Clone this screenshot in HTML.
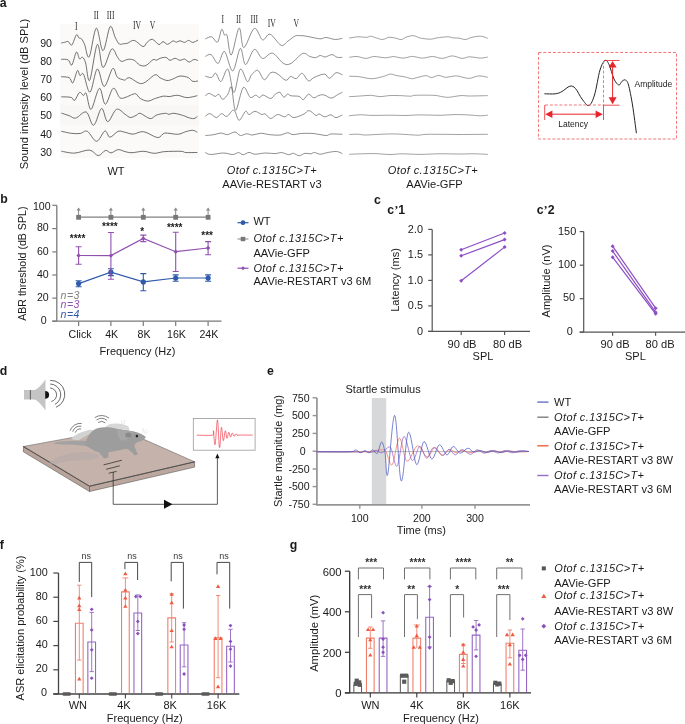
<!DOCTYPE html>
<html><head><meta charset="utf-8"><title>Figure</title>
<style>
html,body{margin:0;padding:0;background:#fff;width:685px;height:724px;overflow:hidden}
svg{display:block;will-change:transform}
</style></head><body>
<svg width="685" height="724" viewBox="0 0 685 724">
<g fill="#1a1a1a" font-family="'Liberation Sans', sans-serif">
<text x="-0.3" y="6.6" font-size="12.3" font-weight="bold">a</text>
<rect x="60" y="24" width="139" height="134" fill="#fbfaf9"/>
<rect x="60" y="105" width="139" height="20" fill="#f8f7f6"/>
<path d="M61.1,43.0C61.7,42.9 63.4,42.5 64.6,42.3C65.8,42.0 67.0,41.0 68.2,41.5C69.4,42.0 70.4,46.1 71.8,45.0C73.2,43.9 75.2,36.0 76.4,34.8C77.6,33.6 78.1,37.2 78.9,37.9C79.8,38.6 80.5,37.8 81.5,38.9C82.5,40.0 83.3,41.5 84.6,44.5C85.9,47.5 87.2,59.5 89.2,56.8C91.2,54.1 94.0,29.2 96.3,28.2C98.6,27.2 100.7,51.0 103.0,50.7C105.3,50.4 108.1,28.8 110.1,26.6C112.1,24.4 113.7,34.5 115.2,37.4C116.7,40.3 117.9,43.0 119.3,44.0C120.7,45.0 122.1,43.8 123.4,43.7C124.7,43.6 125.5,43.8 127.3,43.3C129.1,42.8 131.7,39.8 134.3,40.4C136.9,41.0 140.9,46.3 143.1,46.6C145.2,46.9 145.6,43.4 147.2,42.2C148.8,41.0 150.4,38.9 152.4,39.3C154.4,39.7 157.1,44.1 158.9,44.5C160.7,44.9 161.6,41.6 163.0,41.6C164.4,41.6 165.9,44.4 167.6,44.3C169.2,44.2 171.4,41.4 172.9,41.0C174.4,40.6 175.2,42.2 176.4,42.2C177.6,42.2 178.5,40.8 179.9,40.8C181.3,40.8 183.2,42.5 184.6,42.4C186.0,42.3 187.2,40.4 188.6,40.4C189.9,40.4 191.1,42.4 192.7,42.4C194.3,42.4 197.1,40.5 198.0,40.1" fill="none" stroke="#4d4d4d" stroke-width="0.8" stroke-linejoin="round"/>
<path d="M61.1,59.3C62.3,59.4 66.4,58.9 68.2,59.9C70.0,60.9 70.4,66.3 71.8,65.0C73.2,63.7 75.1,53.2 76.4,52.2C77.7,51.2 78.5,57.9 79.5,58.8C80.5,59.6 81.5,56.6 82.5,57.3C83.5,58.0 84.4,59.1 85.6,62.9C86.8,66.7 87.8,83.4 89.7,80.3C91.7,77.2 95.1,46.6 97.3,44.5C99.5,42.4 100.6,66.7 103.0,67.5C105.4,68.3 109.2,50.9 111.6,49.1C114.0,47.3 115.7,54.8 117.3,56.8C118.9,58.8 119.6,61.0 121.4,61.4C123.2,61.8 125.8,59.5 128.0,59.3C130.2,59.1 132.4,59.3 134.3,60.3C136.2,61.2 137.7,64.1 139.6,65.0C141.5,65.9 143.8,66.4 146.0,65.5C148.2,64.6 151.2,60.6 153.0,59.7C154.8,58.8 155.3,60.4 156.5,60.2C157.7,60.0 158.4,58.8 160.0,58.3C161.6,57.8 164.2,57.1 165.9,57.4C167.6,57.7 168.4,60.1 170.0,60.3C171.6,60.4 173.5,58.3 175.2,58.3C176.8,58.3 178.3,60.2 179.9,60.3C181.5,60.4 183.1,58.8 184.6,59.1C186.1,59.4 187.6,61.9 189.2,62.0C190.8,62.1 192.4,59.7 193.9,59.5C195.4,59.3 197.3,60.4 198.0,60.6" fill="none" stroke="#4d4d4d" stroke-width="0.8" stroke-linejoin="round"/>
<path d="M61.1,76.7C62.5,76.9 67.2,76.7 69.2,77.7C71.2,78.7 71.5,84.0 72.9,82.8C74.3,81.6 76.2,71.8 77.4,70.6C78.6,69.4 79.0,75.1 80.0,75.7C81.0,76.3 81.8,71.5 83.5,74.2C85.2,76.9 87.7,93.0 90.0,92.1C92.3,91.2 94.9,69.9 97.3,69.0C99.7,68.1 101.6,86.6 104.2,86.5C106.8,86.4 110.5,70.0 112.7,68.5C114.9,67.0 115.5,75.3 117.3,77.2C119.1,79.1 122.1,79.3 123.4,79.8C124.7,80.3 124.0,80.4 125.0,80.1C126.0,79.8 126.9,77.2 129.7,77.8C132.5,78.4 137.7,84.1 141.9,83.6C146.1,83.1 151.8,75.9 154.8,74.9C157.8,73.9 158.0,76.9 160.0,77.8C162.0,78.7 164.8,80.3 167.0,80.5C169.2,80.7 170.8,79.7 172.9,79.0C175.1,78.3 177.4,76.3 179.9,76.1C182.4,75.8 186.0,76.6 188.1,77.5C190.2,78.4 191.0,80.7 192.7,81.3C194.3,81.9 197.1,81.0 198.0,81.0" fill="none" stroke="#4d4d4d" stroke-width="0.8" stroke-linejoin="round"/>
<path d="M61.3,96.8C62.9,96.9 69.0,96.8 71.2,97.4C73.4,98.0 73.2,101.2 74.6,100.4C76.0,99.6 78.0,93.2 79.5,92.4C81.0,91.6 82.3,95.3 83.4,95.5C84.5,95.7 84.9,91.2 86.2,93.5C87.5,95.8 88.9,110.2 91.1,109.3C93.3,108.4 97.0,89.1 99.4,88.3C101.8,87.5 103.0,104.3 105.3,104.3C107.6,104.3 110.8,89.4 113.2,88.3C115.6,87.2 117.8,96.2 119.8,97.7C121.8,99.2 123.2,98.0 125.0,97.6C126.8,97.2 128.5,95.9 130.3,95.3C132.1,94.7 134.0,93.3 135.7,93.8C137.3,94.3 138.2,97.2 140.2,98.4C142.2,99.6 145.3,101.1 147.8,101.1C150.3,101.1 152.8,99.2 155.4,98.4C158.0,97.6 161.2,96.4 163.5,96.1C165.8,95.8 166.7,96.7 169.0,96.6C171.3,96.5 174.6,95.1 177.6,95.3C180.6,95.5 183.6,97.5 186.9,97.6C190.2,97.7 195.7,96.0 197.4,95.7" fill="none" stroke="#4d4d4d" stroke-width="0.8" stroke-linejoin="round"/>
<path d="M61.3,113.1C62.6,113.5 66.6,114.8 69.0,115.6C71.4,116.4 72.8,118.7 75.7,118.1C78.6,117.5 83.2,110.8 86.2,112.0C89.2,113.2 91.0,125.9 93.6,125.3C96.2,124.7 99.2,109.1 101.6,108.5C103.9,107.9 105.2,121.6 107.7,121.7C110.2,121.8 113.6,110.5 116.5,109.3C119.4,108.0 122.7,112.8 125.0,114.2C127.3,115.6 128.5,117.3 130.3,117.5C132.2,117.7 134.4,116.1 136.1,115.4C137.8,114.7 137.9,112.8 140.2,113.3C142.5,113.8 147.4,118.3 150.1,118.6C152.8,118.9 154.0,116.0 156.5,115.1C159.0,114.2 163.2,113.4 165.3,113.3C167.4,113.2 167.6,114.3 169.0,114.3C170.4,114.3 171.6,113.1 174.0,113.3C176.4,113.5 181.1,114.9 183.4,115.6C185.8,116.3 186.3,117.0 188.1,117.5C189.8,118.0 192.3,118.8 193.9,118.6C195.5,118.4 196.8,116.8 197.4,116.5" fill="none" stroke="#4d4d4d" stroke-width="0.8" stroke-linejoin="round"/>
<path d="M61.3,131.3C62.9,131.6 68.1,132.9 71.2,133.3C74.3,133.7 77.4,133.8 80.1,133.5C82.8,133.2 84.5,130.0 87.3,131.3C90.0,132.6 93.7,141.4 96.6,141.3C99.5,141.2 102.7,131.7 104.9,131.0C107.1,130.3 107.7,137.1 109.9,137.2C112.1,137.2 115.7,132.1 118.2,131.3C120.7,130.5 122.5,131.8 125.0,132.3C127.5,132.8 130.1,134.2 133.2,134.1C136.3,134.0 139.6,131.1 143.7,131.7C147.8,132.3 154.2,137.4 157.7,137.6C161.2,137.8 161.4,133.6 164.7,133.1C168.0,132.6 174.1,134.5 177.6,134.3C181.1,134.1 183.2,132.4 185.7,131.7C188.2,131.0 190.8,130.2 192.7,130.3C194.6,130.4 196.6,132.0 197.4,132.3" fill="none" stroke="#4d4d4d" stroke-width="0.8" stroke-linejoin="round"/>
<path d="M61.3,151.2C63.5,151.5 69.9,153.3 74.6,153.1C79.3,152.9 85.5,149.7 89.5,150.1C93.5,150.5 95.6,155.5 98.3,155.6C101.0,155.7 103.4,150.8 105.5,150.4C107.6,150.0 108.9,153.0 111.0,152.9C113.1,152.8 115.9,149.8 118.2,149.6C120.5,149.4 122.7,151.1 125.0,151.6C127.3,152.1 128.9,152.8 132.0,152.7C135.1,152.6 140.0,151.2 143.7,151.3C147.4,151.4 150.7,153.2 154.2,153.3C157.7,153.4 160.2,151.9 164.7,151.6C169.2,151.3 177.6,151.2 181.1,151.3C184.6,151.5 183.0,152.3 185.7,152.5C188.4,152.7 195.4,152.5 197.4,152.5" fill="none" stroke="#4d4d4d" stroke-width="0.8" stroke-linejoin="round"/>
<path d="M205.3,38.9C206.4,38.5 209.7,36.3 211.7,36.8C213.7,37.3 215.8,43.3 217.5,42.1C219.2,40.9 220.4,30.7 221.6,29.5C222.8,28.3 223.6,34.1 224.5,35.1C225.4,36.1 226.0,32.3 227.1,35.6C228.2,38.9 229.3,56.2 231.3,55.0C233.3,53.8 237.0,29.3 239.1,28.1C241.2,26.9 241.3,47.6 243.8,47.6C246.3,47.6 251.2,29.7 254.3,28.4C257.4,27.1 259.9,38.8 262.5,39.8C265.1,40.8 267.0,33.3 270.1,34.2C273.2,35.1 278.1,44.2 281.1,45.3C284.1,46.4 285.7,42.5 288.0,41.0C290.3,39.5 293.4,36.9 295.1,36.0C296.8,35.1 296.4,35.6 298.0,35.6C299.6,35.6 301.9,35.5 305.0,36.0C308.1,36.5 314.0,37.8 316.7,38.3C319.4,38.8 319.4,38.9 321.0,38.8C322.6,38.7 323.7,37.4 326.1,37.5C328.5,37.6 332.7,39.4 335.4,39.5C338.1,39.6 341.2,38.5 342.4,38.3" fill="none" stroke="#5e5e5e" stroke-width="0.7" stroke-linejoin="round"/>
<path d="M205.3,56.4C206.3,56.1 209.0,53.4 211.1,54.6C213.2,55.8 215.9,63.9 218.1,63.4C220.3,62.9 222.1,50.2 224.5,51.5C226.9,52.8 230.1,71.5 232.7,71.0C235.3,70.5 238.2,49.5 240.3,48.4C242.4,47.3 243.2,64.4 245.5,64.6C247.8,64.8 251.5,50.4 254.3,49.4C257.1,48.4 259.5,57.9 262.5,58.5C265.5,59.1 268.9,52.3 272.4,53.1C275.9,53.9 280.3,61.7 283.4,63.4C286.5,65.1 287.8,65.0 291.0,63.4C294.2,61.8 299.6,54.7 302.7,53.5C305.8,52.3 307.6,55.7 309.7,56.4C311.8,57.1 313.8,57.8 315.5,57.6C317.2,57.5 318.6,55.6 320.2,55.5C321.8,55.4 323.1,57.1 325.0,57.0C326.9,56.9 329.9,54.6 331.9,54.6C333.9,54.6 335.4,56.8 337.2,57.3C338.9,57.8 341.5,57.3 342.4,57.3" fill="none" stroke="#5e5e5e" stroke-width="0.7" stroke-linejoin="round"/>
<path d="M205.3,76.2C206.4,76.4 209.9,77.9 211.7,77.4C213.4,76.9 214.2,72.6 215.8,73.3C217.4,74.0 219.0,82.2 221.0,81.5C223.0,80.8 225.8,67.4 228.0,69.2C230.2,71.0 231.8,92.5 233.9,92.5C236.0,92.5 238.1,71.0 240.3,69.2C242.5,67.4 245.5,80.5 247.3,81.5C249.2,82.5 249.7,76.9 251.4,75.1C253.2,73.2 255.7,69.6 257.8,70.4C259.9,71.2 262.1,79.3 264.2,79.7C266.3,80.1 268.6,73.7 270.7,72.7C272.8,71.7 274.5,72.2 277.0,73.5C279.5,74.8 283.6,79.8 285.8,80.3C288.1,80.8 288.8,76.8 290.5,76.5C292.2,76.2 294.4,79.1 296.3,78.6C298.2,78.1 300.1,72.9 302.1,73.3C304.1,73.7 306.5,80.2 308.5,80.9C310.5,81.6 311.4,78.6 314.0,77.5C316.6,76.4 321.7,74.0 324.3,74.1C326.9,74.2 327.7,78.5 329.6,78.3C331.6,78.1 333.9,73.3 336.0,72.7C338.1,72.1 341.3,74.5 342.4,74.8" fill="none" stroke="#5e5e5e" stroke-width="0.7" stroke-linejoin="round"/>
<path d="M205.3,95.8C206.0,95.4 207.7,93.3 209.3,93.4C211.0,93.5 213.6,96.3 215.2,96.4C216.8,96.5 217.4,93.7 218.7,94.2C220.0,94.7 221.2,99.3 222.8,99.3C224.4,99.3 226.6,96.0 228.0,94.0C229.4,92.0 230.2,84.5 231.5,87.2C232.8,89.9 233.7,110.3 235.6,110.4C237.5,110.5 240.8,89.8 243.2,87.6C245.6,85.4 248.1,96.0 250.2,97.3C252.2,98.6 253.9,95.2 255.5,95.2C257.1,95.2 258.3,97.5 259.6,97.5C260.9,97.5 261.2,94.8 263.1,95.0C265.0,95.2 268.7,98.6 270.7,98.5C272.7,98.4 273.8,95.2 275.3,94.2C276.8,93.2 278.5,91.8 279.9,92.3C281.3,92.8 282.5,97.0 283.8,97.3C285.1,97.6 286.3,94.2 287.5,94.0C288.7,93.8 289.1,95.4 291.0,95.8C292.9,96.2 297.1,95.8 299.2,96.4C301.2,97.0 301.8,100.0 303.3,99.6C304.9,99.2 306.8,94.5 308.5,94.2C310.2,93.9 312.1,97.6 313.8,97.8C315.6,98.0 317.2,95.9 319.0,95.4C320.8,94.9 322.2,94.5 324.3,95.0C326.4,95.5 329.1,98.2 331.3,98.1C333.5,98.0 335.9,95.6 337.7,94.6C339.5,93.6 341.6,92.7 342.4,92.3" fill="none" stroke="#5e5e5e" stroke-width="0.7" stroke-linejoin="round"/>
<path d="M205.3,116.2C206.1,115.8 208.1,113.4 209.9,113.6C211.8,113.8 214.5,117.6 216.4,117.6C218.3,117.6 219.8,113.8 221.6,113.6C223.3,113.4 224.8,117.0 226.9,116.4C229.0,115.8 231.9,109.4 233.9,110.1C235.9,110.8 237.2,120.1 239.1,120.3C241.0,120.5 243.8,112.3 245.5,111.3C247.2,110.3 247.4,114.5 249.0,114.5C250.6,114.5 252.8,111.3 254.9,111.3C257.1,111.3 260.2,114.1 261.9,114.5C263.6,114.9 263.5,113.1 265.0,113.8C266.5,114.5 268.6,118.4 270.7,118.5C272.8,118.6 275.3,114.8 277.6,114.5C279.9,114.2 282.8,116.8 284.6,116.8C286.5,116.8 287.1,114.4 288.7,114.5C290.2,114.6 291.4,117.7 293.9,117.6C296.4,117.5 301.4,115.3 303.9,114.1C306.4,112.9 307.1,110.3 309.1,110.6C311.1,110.8 314.5,115.0 316.1,115.6C317.8,116.1 317.5,113.7 319.0,113.9C320.5,114.1 322.9,116.7 324.9,116.8C326.8,116.9 328.8,114.7 330.7,114.8C332.6,114.9 334.1,117.6 336.0,117.6C337.9,117.6 341.3,115.4 342.4,115.0" fill="none" stroke="#5e5e5e" stroke-width="0.7" stroke-linejoin="round"/>
<path d="M205.3,135.5C206.6,135.4 210.4,135.2 213.0,134.8C215.6,134.4 218.6,133.1 221.0,133.1C223.4,133.1 225.2,134.8 227.5,134.6C229.8,134.4 232.9,131.8 235.0,132.0C237.1,132.2 238.4,135.2 240.3,135.5C242.2,135.8 244.7,133.9 246.7,133.8C248.7,133.7 250.2,135.1 252.5,135.0C254.8,134.9 257.8,133.4 260.7,133.3C263.6,133.2 266.8,134.4 270.0,134.7C273.2,135.0 277.1,135.4 280.0,135.1C282.9,134.8 285.3,132.9 287.5,132.8C289.7,132.7 290.7,134.5 293.0,134.6C295.3,134.7 298.2,133.7 301.5,133.5C304.8,133.3 308.9,133.2 313.0,133.5C317.1,133.8 323.2,135.4 326.1,135.5C329.1,135.6 328.0,134.2 330.7,134.0C333.4,133.8 340.4,134.2 342.4,134.3" fill="none" stroke="#5e5e5e" stroke-width="0.7" stroke-linejoin="round"/>
<path d="M205.3,152.4C206.2,152.8 207.5,154.4 210.5,154.5C213.5,154.6 219.7,153.0 223.4,153.0C227.1,153.0 230.2,154.6 232.7,154.5C235.2,154.4 236.8,152.6 238.5,152.6C240.2,152.6 241.4,154.7 243.2,154.7C244.9,154.7 247.1,152.5 249.0,152.4C250.9,152.3 252.2,154.1 254.9,154.2C257.6,154.3 262.0,153.1 265.4,153.0C268.8,152.9 272.3,153.7 275.0,153.6C277.7,153.5 279.4,152.4 281.7,152.6C284.0,152.8 286.8,154.6 288.7,154.7C290.6,154.8 291.6,153.1 293.4,153.3C295.1,153.5 297.3,155.7 299.2,155.7C301.1,155.7 303.1,153.6 305.0,153.3C306.9,153.0 309.3,154.0 310.9,153.8C312.5,153.7 312.8,152.3 314.4,152.4C315.9,152.5 317.9,154.2 320.2,154.2C322.5,154.2 325.7,152.8 328.4,152.4C331.1,152.0 334.3,151.3 336.6,151.5C338.9,151.7 341.4,153.2 342.4,153.6" fill="none" stroke="#5e5e5e" stroke-width="0.7" stroke-linejoin="round"/>
<path d="M349.2,38.1C350.7,37.9 355.2,36.9 358.1,36.8C361.1,36.7 364.8,37.4 366.9,37.3C369.0,37.2 369.0,36.1 370.7,36.2C372.4,36.3 374.8,37.6 376.8,38.1C378.8,38.6 380.8,39.6 382.8,39.5C384.8,39.4 386.7,37.5 388.8,37.3C390.9,37.1 393.3,37.7 395.4,38.1C397.5,38.5 399.6,39.7 401.4,39.5C403.2,39.3 404.6,37.6 406.3,37.0C408.0,36.4 410.4,35.9 411.8,35.7C413.2,35.5 413.6,35.6 415.0,36.0C416.4,36.4 417.9,37.6 420.5,38.1C423.1,38.6 427.6,39.2 430.3,39.2C433.0,39.2 434.0,38.3 436.9,37.9C439.8,37.5 445.1,36.8 447.8,36.8C450.5,36.8 451.5,37.7 453.3,37.9C455.1,38.1 456.8,37.8 458.8,38.1C460.8,38.4 463.2,39.6 465.4,39.5C467.6,39.4 469.3,37.8 471.9,37.3C474.4,36.8 478.0,36.0 480.7,36.2C483.4,36.4 486.6,38.0 487.8,38.4" fill="none" stroke="#6e6e6e" stroke-width="0.65" stroke-linejoin="round"/>
<path d="M349.2,57.3C350.5,57.2 354.2,56.3 357.0,56.5C359.8,56.7 363.1,58.4 365.8,58.4C368.6,58.4 371.3,56.7 373.5,56.5C375.7,56.3 376.8,56.8 378.9,57.0C381.0,57.2 383.7,57.9 386.1,57.8C388.5,57.7 391.3,56.6 393.2,56.5C395.1,56.4 395.8,57.0 397.6,57.3C399.4,57.6 401.9,58.2 404.1,58.1C406.3,58.0 408.9,56.7 410.7,56.5C412.5,56.3 413.0,56.5 415.0,56.8C417.0,57.1 419.8,58.1 422.7,58.1C425.6,58.1 429.2,56.5 432.5,56.5C435.8,56.5 439.1,58.5 442.4,58.4C445.7,58.3 448.9,55.9 452.2,55.9C455.5,55.9 459.2,58.2 462.1,58.4C465.0,58.5 466.6,56.8 469.7,56.8C472.8,56.8 477.7,58.1 480.7,58.1C483.7,58.1 486.6,57.2 487.8,57.0" fill="none" stroke="#6e6e6e" stroke-width="0.65" stroke-linejoin="round"/>
<path d="M349.2,76.2C350.9,76.3 355.5,76.3 359.2,76.7C362.9,77.1 367.3,78.7 371.3,78.7C375.3,78.7 380.1,77.3 383.3,76.5C386.5,75.7 388.2,74.2 390.4,74.1C392.6,73.9 394.4,75.2 396.5,75.6C398.6,76.0 400.4,76.0 403.0,76.5C405.6,77.0 409.8,78.4 411.8,78.7C413.8,79.0 412.6,78.6 415.0,78.1C417.4,77.6 423.2,75.7 425.9,75.6C428.6,75.5 429.3,77.6 431.4,77.6C433.5,77.6 436.1,75.5 438.5,75.4C440.9,75.4 442.7,77.2 445.7,77.3C448.7,77.4 452.8,75.7 456.6,75.9C460.4,76.1 465.1,78.4 468.7,78.4C472.3,78.4 475.3,76.1 478.5,75.9C481.7,75.7 486.2,77.1 487.8,77.3" fill="none" stroke="#6e6e6e" stroke-width="0.65" stroke-linejoin="round"/>
<path d="M349.2,96.7C351.1,96.6 356.6,96.2 360.3,96.0C364.0,95.8 368.0,95.2 371.3,95.3C374.6,95.4 377.1,96.7 380.0,96.7C382.9,96.8 385.5,95.8 388.8,95.6C392.1,95.4 396.1,95.5 399.7,95.6C403.3,95.7 408.1,96.2 410.7,96.2C413.2,96.2 411.2,95.5 415.0,95.3C418.8,95.1 429.0,95.1 433.6,95.3C438.2,95.5 439.8,96.4 442.4,96.7C444.9,97.0 445.8,97.5 448.9,97.3C452.0,97.1 457.5,95.8 461.0,95.6C464.5,95.4 465.2,96.0 469.7,96.0C474.2,96.0 484.8,95.7 487.8,95.6" fill="none" stroke="#6e6e6e" stroke-width="0.65" stroke-linejoin="round"/>
<path d="M349.2,115.8C351.0,115.6 356.2,114.9 360.0,114.8C363.8,114.7 367.0,115.3 372.0,115.4C377.0,115.5 384.5,115.2 390.0,115.2C395.5,115.2 400.0,115.5 405.0,115.5C410.0,115.5 414.2,114.9 420.0,114.9C425.8,114.9 434.2,115.3 440.0,115.3C445.8,115.2 450.0,114.6 455.0,114.6C460.0,114.5 465.8,114.8 470.0,115.0C474.2,115.2 477.0,115.8 480.0,115.8C483.0,115.8 486.5,115.3 487.8,115.2" fill="none" stroke="#6e6e6e" stroke-width="0.65" stroke-linejoin="round"/>
<path d="M349.2,134.5C350.7,134.4 355.4,134.1 358.0,134.2C360.6,134.3 361.7,135.0 365.0,135.0C368.3,135.0 373.5,134.6 378.0,134.4C382.5,134.2 387.5,133.9 392.0,133.9C396.5,133.9 400.7,134.2 405.0,134.4C409.3,134.6 414.7,135.2 418.0,135.2C421.3,135.2 421.3,134.6 425.0,134.4C428.7,134.2 434.2,134.3 440.0,134.3C445.8,134.3 452.0,134.5 460.0,134.5C468.0,134.5 483.2,134.3 487.8,134.3" fill="none" stroke="#6e6e6e" stroke-width="0.65" stroke-linejoin="round"/>
<path d="M349.2,154.3C351.3,154.2 357.7,153.9 362.0,153.8C366.3,153.7 370.3,153.5 375.0,153.6C379.7,153.7 385.5,154.5 390.0,154.5C394.5,154.5 397.0,153.8 402.0,153.8C407.0,153.8 414.0,154.4 420.0,154.4C426.0,154.4 431.3,153.9 438.0,153.8C444.7,153.7 453.8,154.0 460.0,154.0C466.2,154.0 470.4,153.7 475.0,153.8C479.6,153.9 485.7,154.3 487.8,154.4" fill="none" stroke="#6e6e6e" stroke-width="0.65" stroke-linejoin="round"/>
<text x="52" y="46.6" class="t" text-anchor="end" font-size="10.6">90</text>
<text x="52" y="65.1" class="t" text-anchor="end" font-size="10.6">80</text>
<text x="52" y="83.3" class="t" text-anchor="end" font-size="10.6">70</text>
<text x="52" y="101.2" class="t" text-anchor="end" font-size="10.6">60</text>
<text x="52" y="119.3" class="t" text-anchor="end" font-size="10.6">50</text>
<text x="52" y="138.0" class="t" text-anchor="end" font-size="10.6">40</text>
<text x="52" y="156.0" class="t" text-anchor="end" font-size="10.6">30</text>
<text transform="translate(27.8,94) rotate(-90)" text-anchor="middle" font-size="11.15">Sound intensity level (dB SPL)</text>
<text x="0" y="0" text-anchor="middle" font-family='"Liberation Serif", serif' font-size="12.8" fill="#2e2e2e" transform="translate(76.2,29.6) scale(0.6,1)">I</text>
<text x="0" y="0" text-anchor="middle" font-family='"Liberation Serif", serif' font-size="12.8" fill="#2e2e2e" transform="translate(96.2,18.9) scale(0.6,1)">II</text>
<text x="0" y="0" text-anchor="middle" font-family='"Liberation Serif", serif' font-size="12.8" fill="#2e2e2e" transform="translate(110.6,18.9) scale(0.6,1)">III</text>
<text x="0" y="0" text-anchor="middle" font-family='"Liberation Serif", serif' font-size="12.8" fill="#2e2e2e" transform="translate(137.1,29.3) scale(0.6,1)">IV</text>
<text x="0" y="0" text-anchor="middle" font-family='"Liberation Serif", serif' font-size="12.8" fill="#2e2e2e" transform="translate(152.4,29.3) scale(0.6,1)">V</text>
<text x="0" y="0" text-anchor="middle" font-family='"Liberation Serif", serif' font-size="12.8" fill="#2e2e2e" transform="translate(222.8,23.1) scale(0.6,1)">I</text>
<text x="0" y="0" text-anchor="middle" font-family='"Liberation Serif", serif' font-size="12.8" fill="#2e2e2e" transform="translate(238.5,23.1) scale(0.6,1)">II</text>
<text x="0" y="0" text-anchor="middle" font-family='"Liberation Serif", serif' font-size="12.8" fill="#2e2e2e" transform="translate(254.3,23.1) scale(0.6,1)">III</text>
<text x="0" y="0" text-anchor="middle" font-family='"Liberation Serif", serif' font-size="12.8" fill="#2e2e2e" transform="translate(271.8,26.8) scale(0.6,1)">IV</text>
<text x="0" y="0" text-anchor="middle" font-family='"Liberation Serif", serif' font-size="12.8" fill="#2e2e2e" transform="translate(296.3,26.8) scale(0.6,1)">V</text>
<text x="116" y="174.5" text-anchor="middle" font-size="11">WT</text>
<text x="272" y="174" text-anchor="middle" font-size="11" font-style="italic" letter-spacing="0.4">Otof c.1315C&gt;T+</text>
<text x="272" y="188.2" text-anchor="middle" font-size="11.15">AAVie-RESTART v3</text>
<text x="433" y="174" text-anchor="middle" font-size="11" font-style="italic" letter-spacing="0.4">Otof c.1315C&gt;T+</text>
<text x="434.5" y="188.2" text-anchor="middle" font-size="11.15">AAVie-GFP</text>
<rect x="538.5" y="52.5" width="138" height="86.5" fill="none" stroke="#ef6a6a" stroke-width="0.9" stroke-dasharray="3,1.8"/>
<path d="M544.4,93.8C546.2,93.8 552.4,94.2 555.3,93.8C558.2,93.4 559.5,92.9 561.9,91.6C564.3,90.3 567.6,86.7 569.9,86.2C572.2,85.7 573.5,86.4 575.5,88.5C577.5,90.6 579.8,96.2 582.0,99.0C584.2,101.8 586.8,106.2 588.9,105.5C591.0,104.8 592.6,100.9 594.5,95.0C596.4,89.1 598.2,75.8 600.0,70.0C601.8,64.2 603.5,61.4 605.0,60.5C606.5,59.6 607.5,61.4 609.0,64.5C610.5,67.6 612.4,75.6 614.0,79.0C615.6,82.4 617.5,84.6 618.8,85.0C620.1,85.4 620.9,82.1 622.0,81.3C623.1,80.5 624.3,79.4 625.4,80.0C626.5,80.6 627.3,80.8 628.5,85.0C629.7,89.2 631.2,97.0 632.5,105.0C633.8,113.0 635.8,128.5 636.4,133.2" fill="none" stroke="#222" stroke-width="1"/>
<line x1="545" y1="105" x2="603.5" y2="105" stroke="#ef6a6a" stroke-width="0.9" stroke-dasharray="3,1.8"/>
<line x1="603.5" y1="61" x2="603.5" y2="105" stroke="#ef6a6a" stroke-width="0.9" stroke-dasharray="3,1.8"/>
<line x1="603.5" y1="105" x2="603.5" y2="120" stroke="#e8242c" stroke-width="0.8"/>
<line x1="544.7" y1="105" x2="544.7" y2="120" stroke="#e8242c" stroke-width="0.8"/>
<line x1="604" y1="60.5" x2="619.6" y2="60.5" stroke="#e8242c" stroke-width="0.8"/>
<line x1="604" y1="105.2" x2="619.6" y2="105.2" stroke="#e8242c" stroke-width="0.8"/>
<line x1="550" y1="114.2" x2="598" y2="114.2" stroke="#e8242c" stroke-width="1"/>
<polygon points="545.2,114.2 552.4,110.5 552.4,117.9" fill="#e8242c"/>
<polygon points="602.8,114.2 595.6,110.5 595.6,117.9" fill="#e8242c"/>
<line x1="612.6" y1="65" x2="612.6" y2="100" stroke="#e8242c" stroke-width="1"/>
<polygon points="612.6,61 608.6,67.5 616.6,67.5" fill="#e8242c"/>
<polygon points="612.6,104.2 608.6,97.2 616.6,97.2" fill="#e8242c"/>
<text x="634.5" y="87.2" font-size="8.5">Amplitude</text>
<text x="573.2" y="127.2" text-anchor="middle" font-size="8.5">Latency</text>
<text x="0.15" y="202.9" font-size="12.3" font-weight="bold">b</text>
<path d="M56.8,205.3 V321.2 M52.3,321.2 H221.5" stroke="#7a7a7a" stroke-width="1.3" fill="none"/>
<line x1="52.3" y1="205.3" x2="56.8" y2="205.3" stroke="#7a7a7a" stroke-width="1.2"/>
<text x="50.6" y="209.8" text-anchor="end" font-size="10.6">100</text>
<line x1="52.3" y1="228.6" x2="56.8" y2="228.6" stroke="#7a7a7a" stroke-width="1.2"/>
<text x="48.7" y="231.1" text-anchor="end" font-size="10.6">80</text>
<line x1="52.3" y1="251.9" x2="56.8" y2="251.9" stroke="#7a7a7a" stroke-width="1.2"/>
<text x="48.7" y="254.5" text-anchor="end" font-size="10.6">60</text>
<line x1="52.3" y1="275.0" x2="56.8" y2="275.0" stroke="#7a7a7a" stroke-width="1.2"/>
<text x="48.7" y="278.3" text-anchor="end" font-size="10.6">40</text>
<line x1="52.3" y1="298.1" x2="56.8" y2="298.1" stroke="#7a7a7a" stroke-width="1.2"/>
<text x="48.7" y="301.1" text-anchor="end" font-size="10.6">20</text>
<line x1="52.3" y1="321.2" x2="56.8" y2="321.2" stroke="#7a7a7a" stroke-width="1.2"/>
<text x="46.6" y="324.1" text-anchor="end" font-size="10.6">0</text>
<line x1="78.6" y1="321.2" x2="78.6" y2="326" stroke="#7a7a7a" stroke-width="1.2"/>
<text x="80.1" y="338" text-anchor="middle" font-size="10.6">Click</text>
<line x1="110.9" y1="321.2" x2="110.9" y2="326" stroke="#7a7a7a" stroke-width="1.2"/>
<text x="111.7" y="338" text-anchor="middle" font-size="10.6">4K</text>
<line x1="143.3" y1="321.2" x2="143.3" y2="326" stroke="#7a7a7a" stroke-width="1.2"/>
<text x="144.1" y="338" text-anchor="middle" font-size="10.6">8K</text>
<line x1="175.7" y1="321.2" x2="175.7" y2="326" stroke="#7a7a7a" stroke-width="1.2"/>
<text x="176.5" y="338" text-anchor="middle" font-size="10.6">16K</text>
<line x1="208.1" y1="321.2" x2="208.1" y2="326" stroke="#7a7a7a" stroke-width="1.2"/>
<text x="208.9" y="338" text-anchor="middle" font-size="10.6">24K</text>
<text x="137.5" y="355" text-anchor="middle" font-size="11">Frequency (Hz)</text>
<text transform="translate(25.5,263.7) rotate(-90)" text-anchor="middle" font-size="10.6">ABR threshold (dB SPL)</text>
<line x1="78.6" y1="217.1" x2="208.1" y2="217.1" stroke="#808080" stroke-width="1.3"/>
<line x1="78.6" y1="217" x2="78.6" y2="209.5" stroke="#888" stroke-width="1"/>
<path d="M76.5,210.6 L78.6,207.6 L80.7,210.6 Z" fill="#888"/>
<rect x="76.2" y="214.9" width="4.8" height="4.8" fill="#777"/>
<line x1="110.9" y1="217" x2="110.9" y2="209.5" stroke="#888" stroke-width="1"/>
<path d="M108.8,210.6 L110.9,207.6 L113.0,210.6 Z" fill="#888"/>
<rect x="108.5" y="214.9" width="4.8" height="4.8" fill="#777"/>
<line x1="143.3" y1="217" x2="143.3" y2="209.5" stroke="#888" stroke-width="1"/>
<path d="M141.2,210.6 L143.3,207.6 L145.4,210.6 Z" fill="#888"/>
<rect x="140.9" y="214.9" width="4.8" height="4.8" fill="#777"/>
<line x1="175.7" y1="217" x2="175.7" y2="209.5" stroke="#888" stroke-width="1"/>
<path d="M173.6,210.6 L175.7,207.6 L177.8,210.6 Z" fill="#888"/>
<rect x="173.3" y="214.9" width="4.8" height="4.8" fill="#777"/>
<line x1="208.1" y1="217" x2="208.1" y2="209.5" stroke="#888" stroke-width="1"/>
<path d="M206.0,210.6 L208.1,207.6 L210.2,210.6 Z" fill="#888"/>
<rect x="205.7" y="214.9" width="4.8" height="4.8" fill="#777"/>
<polyline points="78.6,283.6 110.9,272.2 143.3,281.9 175.7,278.0 208.1,278.0" fill="none" stroke="#2f5aaa" stroke-width="1.2"/>
<path d="M78.6,280.8 V286.7 M75.6,280.8 h6 M75.6,286.7 h6" stroke="#2f5aaa" stroke-width="1.1" fill="none"/>
<path d="M110.9,268.8 V275.6 M107.9,268.8 h6 M107.9,275.6 h6" stroke="#2f5aaa" stroke-width="1.1" fill="none"/>
<path d="M143.3,273.6 V290.7 M140.3,273.6 h6 M140.3,290.7 h6" stroke="#2f5aaa" stroke-width="1.1" fill="none"/>
<path d="M175.7,274.9 V281.2 M172.7,274.9 h6 M172.7,281.2 h6" stroke="#2f5aaa" stroke-width="1.1" fill="none"/>
<path d="M208.1,274.9 V281.2 M205.1,274.9 h6 M205.1,281.2 h6" stroke="#2f5aaa" stroke-width="1.1" fill="none"/>
<circle cx="78.6" cy="283.6" r="2.6" fill="#2f5aaa"/>
<circle cx="110.9" cy="272.2" r="2.6" fill="#2f5aaa"/>
<circle cx="143.3" cy="281.9" r="2.6" fill="#2f5aaa"/>
<circle cx="175.7" cy="278.0" r="2.6" fill="#2f5aaa"/>
<circle cx="208.1" cy="278.0" r="2.6" fill="#2f5aaa"/>
<polyline points="78.6,255.5 110.9,255.6 143.3,238.4 175.7,251.7 208.1,248.0" fill="none" stroke="#9050b0" stroke-width="1.2"/>
<path d="M78.6,246.8 V264.3 M75.6,246.8 h6 M75.6,264.3 h6" stroke="#9050b0" stroke-width="1.1" fill="none"/>
<path d="M110.9,232.5 V279.3 M107.9,232.5 h6 M107.9,279.3 h6" stroke="#9050b0" stroke-width="1.1" fill="none"/>
<path d="M143.3,235.1 V241.6 M140.3,235.1 h6 M140.3,241.6 h6" stroke="#9050b0" stroke-width="1.1" fill="none"/>
<path d="M175.7,232.3 V271.5 M172.7,232.3 h6 M172.7,271.5 h6" stroke="#9050b0" stroke-width="1.1" fill="none"/>
<path d="M208.1,241.6 V254.7 M205.1,241.6 h6 M205.1,254.7 h6" stroke="#9050b0" stroke-width="1.1" fill="none"/>
<path d="M78.6,253.3 l2.2,2.2 l-2.2,2.2 l-2.2,-2.2 z" fill="#9050b0"/>
<path d="M110.9,253.4 l2.2,2.2 l-2.2,2.2 l-2.2,-2.2 z" fill="#9050b0"/>
<path d="M143.3,236.2 l2.2,2.2 l-2.2,2.2 l-2.2,-2.2 z" fill="#9050b0"/>
<path d="M175.7,249.5 l2.2,2.2 l-2.2,2.2 l-2.2,-2.2 z" fill="#9050b0"/>
<path d="M208.1,245.8 l2.2,2.2 l-2.2,2.2 l-2.2,-2.2 z" fill="#9050b0"/>
<text x="77.6" y="242.1" text-anchor="middle" font-size="10" font-weight="bold">****</text>
<text x="109.9" y="230.1" text-anchor="middle" font-size="10" font-weight="bold">****</text>
<text x="142.3" y="234.6" text-anchor="middle" font-size="10" font-weight="bold">*</text>
<text x="174.7" y="231.4" text-anchor="middle" font-size="10" font-weight="bold">****</text>
<text x="207.1" y="238.9" text-anchor="middle" font-size="10" font-weight="bold">***</text>
<text x="60.5" y="298.6" font-size="10.6" font-style="italic" letter-spacing="0.5" fill="#808080">n=3</text>
<text x="60.5" y="308.4" font-size="10.6" font-style="italic" letter-spacing="0.5" fill="#9050b0">n=3</text>
<text x="60.5" y="318.4" font-size="10.6" font-style="italic" letter-spacing="0.5" fill="#2f5aaa">n=4</text>
<line x1="237.5" y1="222.7" x2="248.5" y2="222.7" stroke="#2f5aaa" stroke-width="1.2"/><circle cx="243" cy="222.7" r="2.4" fill="#2f5aaa"/>
<text x="253.4" y="225.3" font-size="11">WT</text>
<line x1="237.5" y1="239" x2="248.5" y2="239" stroke="#999" stroke-width="1.2"/><rect x="240.7" y="236.8" width="4.6" height="4.4" fill="#777"/>
<text x="253.4" y="242.3" font-size="11" font-style="italic" letter-spacing="0.4">Otof c.1315C&gt;T+</text>
<text x="253.4" y="257" font-size="11.15">AAVie-GFP</text>
<line x1="237.5" y1="268.2" x2="248.5" y2="268.2" stroke="#9050b0" stroke-width="1.2"/><path d="M243,266.2 l2,2 l-2,2 l-2,-2z" fill="#9050b0"/>
<text x="253.4" y="272" font-size="11" font-style="italic" letter-spacing="0.4">Otof c.1315C&gt;T+</text>
<text x="253.4" y="285.2" font-size="11.15">AAVie-RESTART v3 6M</text>
<text x="373.9" y="203.5" font-size="12.3" font-weight="bold">c</text>
<text x="387.3" y="214.3" font-size="12.3" font-weight="bold">c<tspan font-family="Liberation Serif">&#8217;</tspan>1</text>
<text x="536.7" y="214.3" font-size="12.3" font-weight="bold">c<tspan font-family="Liberation Serif">&#8217;</tspan>2</text>
<path d="M432.2,229.4 V331.4 M428.2,331.4 H530" stroke="#555" stroke-width="1.2" fill="none"/>
<line x1="428.2" y1="229.4" x2="432.2" y2="229.4" stroke="#555" stroke-width="1.2"/>
<text x="423" y="232.7" text-anchor="end" font-size="10.9">2.0</text>
<line x1="428.2" y1="254.9" x2="432.2" y2="254.9" stroke="#555" stroke-width="1.2"/>
<text x="423" y="258.2" text-anchor="end" font-size="10.9">1.5</text>
<line x1="428.2" y1="280.4" x2="432.2" y2="280.4" stroke="#555" stroke-width="1.2"/>
<text x="423" y="283.7" text-anchor="end" font-size="10.9">1.0</text>
<line x1="428.2" y1="305.9" x2="432.2" y2="305.9" stroke="#555" stroke-width="1.2"/>
<text x="423" y="309.2" text-anchor="end" font-size="10.9">0.5</text>
<line x1="428.2" y1="331.4" x2="432.2" y2="331.4" stroke="#555" stroke-width="1.2"/>
<text x="423" y="334.7" text-anchor="end" font-size="10.9">0</text>
<line x1="461.2" y1="331.4" x2="461.2" y2="335" stroke="#555" stroke-width="1.2"/>
<text x="462.0" y="348" text-anchor="middle" font-size="11.1">90 dB</text>
<line x1="504.6" y1="331.4" x2="504.6" y2="335" stroke="#555" stroke-width="1.2"/>
<text x="507.6" y="348" text-anchor="middle" font-size="11.1">80 dB</text>
<text x="483" y="359.5" text-anchor="middle" font-size="11">SPL</text>
<text transform="translate(398.5,280) rotate(-90)" text-anchor="middle" font-size="11">Latency (ms)</text>
<line x1="461.2" y1="249.7" x2="504.6" y2="233.0" stroke="#8c4fc4" stroke-width="1.2"/>
<path d="M461.2,247.7 l2,2 l-2,2 l-2,-2z" fill="#8c4fc4"/>
<path d="M504.6,231.0 l2,2 l-2,2 l-2,-2z" fill="#8c4fc4"/>
<line x1="461.2" y1="255.8" x2="504.6" y2="239.6" stroke="#8c4fc4" stroke-width="1.2"/>
<path d="M461.2,253.8 l2,2 l-2,2 l-2,-2z" fill="#8c4fc4"/>
<path d="M504.6,237.6 l2,2 l-2,2 l-2,-2z" fill="#8c4fc4"/>
<line x1="461.2" y1="280.7" x2="504.6" y2="247.1" stroke="#8c4fc4" stroke-width="1.2"/>
<path d="M461.2,278.7 l2,2 l-2,2 l-2,-2z" fill="#8c4fc4"/>
<path d="M504.6,245.1 l2,2 l-2,2 l-2,-2z" fill="#8c4fc4"/>
<path d="M583.7,231.6 V332.2 M579.7,332.2 H685" stroke="#555" stroke-width="1.2" fill="none"/>
<line x1="579.7" y1="231.6" x2="583.7" y2="231.6" stroke="#555" stroke-width="1.2"/>
<text x="576.2" y="234.9" text-anchor="end" font-size="10.9">150</text>
<line x1="579.7" y1="265.2" x2="583.7" y2="265.2" stroke="#555" stroke-width="1.2"/>
<text x="576.2" y="268.2" text-anchor="end" font-size="10.9">100</text>
<line x1="579.7" y1="298.7" x2="583.7" y2="298.7" stroke="#555" stroke-width="1.2"/>
<text x="575.1" y="301.2" text-anchor="end" font-size="10.9">50</text>
<line x1="579.7" y1="332.2" x2="583.7" y2="332.2" stroke="#555" stroke-width="1.2"/>
<text x="572.7" y="334.8" text-anchor="end" font-size="10.9">0</text>
<line x1="612.6" y1="332.2" x2="612.6" y2="335.8" stroke="#555" stroke-width="1.2"/>
<text x="615.1" y="348" text-anchor="middle" font-size="11.1">90 dB</text>
<line x1="655.6" y1="332.2" x2="655.6" y2="335.8" stroke="#555" stroke-width="1.2"/>
<text x="660.1" y="348" text-anchor="middle" font-size="11.1">80 dB</text>
<text x="635.4" y="359.5" text-anchor="middle" font-size="11">SPL</text>
<text transform="translate(549.5,281) rotate(-90)" text-anchor="middle" font-size="11">Amplitude (nV)</text>
<line x1="612.6" y1="246.2" x2="655.6" y2="308.2" stroke="#8c4fc4" stroke-width="1.2"/>
<path d="M612.6,244.2 l2,2 l-2,2 l-2,-2z" fill="#8c4fc4"/>
<path d="M655.6,306.2 l2,2 l-2,2 l-2,-2z" fill="#8c4fc4"/>
<line x1="612.6" y1="251.1" x2="655.6" y2="312.2" stroke="#8c4fc4" stroke-width="1.2"/>
<path d="M612.6,249.1 l2,2 l-2,2 l-2,-2z" fill="#8c4fc4"/>
<path d="M655.6,310.2 l2,2 l-2,2 l-2,-2z" fill="#8c4fc4"/>
<line x1="612.6" y1="257.2" x2="655.6" y2="313.8" stroke="#8c4fc4" stroke-width="1.2"/>
<path d="M612.6,255.2 l2,2 l-2,2 l-2,-2z" fill="#8c4fc4"/>
<path d="M655.6,311.8 l2,2 l-2,2 l-2,-2z" fill="#8c4fc4"/>
<text x="-0.3" y="374.7" font-size="12.3" font-weight="bold">d</text>
<rect x="24" y="390" width="11" height="9.5" fill="#c4c4c4"/>
<line x1="30.4" y1="390" x2="30.4" y2="399.5" stroke="#444" stroke-width="0.8"/>
<path d="M34.8,390 C38.5,388.5 42.5,384 45.5,379.3 L45.5,410.6 C42.5,406 38.5,401 34.8,399.5 Z" fill="#c4c4c4"/>
<path d="M45.2,390.9 A3.9,3.9 0 0 1 45.2,398.7 Z" fill="#111"/>
<path d="M50.2,380.4 A13.95,13.95 0 0 1 56,407.3" fill="none" stroke="#444" stroke-width="0.8"/>
<path d="M50.2,384 A10.8,10.8 0 0 1 54.9,404.4" fill="none" stroke="#444" stroke-width="0.8"/>
<path d="M50.2,388 A6.86,6.86 0 0 1 51.4,401.5" fill="none" stroke="#444" stroke-width="0.8"/>
<polygon points="23.4,446.5 89.5,486.2 89.5,491.5 23.4,451.8" fill="#b9a49c" stroke="#555" stroke-width="0.6"/>
<polygon points="89.5,486.2 194.6,461.8 194.6,467.1 89.5,491.5" fill="#bca79f" stroke="#555" stroke-width="0.6"/>
<polygon points="23.4,446.5 120.0,428.8 194.6,461.8 89.5,486.2" fill="#c5b2aa" stroke="#6a6a6a" stroke-width="0.6"/>
<path d="M23.4,446.5 L89.5,486.2 L194.6,461.8" fill="none" stroke="#444" stroke-width="0.8"/>
<path d="M48,463.5 C56,457 66,453.5 78,452.3 C87,451.5 95,452.2 100,455.5 C98,458.5 93,459.8 87,460 C75,460.3 63,461.2 54,464.5 Z" fill="#b3aaa8" opacity="0.55"/>
<path d="M71,439 C75,434.5 82,431.5 90,429.8 L97,430.8 C90,434 84,437 78,440.5 Z" fill="#d2d2d2"/>
<path d="M105,428 C106.5,424.8 111,423.4 117,423.6 C121,423.8 125,424.6 128.5,426.6 L129.5,430 C122,429.5 112,429.2 105,429 Z" fill="#d7d7d7"/>
<path d="M88,441.2 C79,440.2 69,441.2 61,441.6 C57.5,441.8 55,442.6 53.5,444 C57,444.3 61,444.3 67,444.5 C75,444.8 82,445.3 88,446.3 Z" fill="#a2a2a2"/>
<path d="M85.5,443 C87.5,436 92,430 97.5,428.3 C103.5,426.6 112,426.9 118,429.2 C124,430.3 130,430.3 134,431.6 C139,432.8 143,434.4 146,437 C144.2,439.8 141.2,441.3 138.6,441.8 C136.2,442.8 134.4,444 134.3,446 L137.8,454.4 L135,455.6 C132,452.2 129,449.3 126,448.7 C120,450.2 114,451.2 108.5,452.2 L108.3,457.6 L104,458.6 C102.2,456.2 100.4,454.2 99.2,452.6 C94,451.2 89.5,447.5 85.5,445.5 Z" fill="#9d9d9d"/>
<path d="M118,429.2 C124,430.3 130,430.3 134,431.6 C132,436 128,440 122,441 C118,438 116,433 118,429.2 Z" fill="#a6a6a6"/>
<ellipse cx="128.4" cy="435" rx="3.2" ry="2.6" fill="#8a8a8a"/>
<circle cx="136.9" cy="436.1" r="1.3" fill="#222"/>
<path d="M142.5,432.5 l1,-4.5 M144,433 l2.5,-4 M145,434 l3.5,-2.5 M122,424 l-0.5,-4 M124,424 l1,-4" stroke="#d8d8d8" stroke-width="0.6"/>
<path d="M75.3,432.6 A5.5,5.5 0 0 1 81.1,429.0" fill="none" stroke="#555" stroke-width="0.75"/>
<path d="M72.7,431.7 A8.3,8.3 0 0 1 81.4,426.2" fill="none" stroke="#555" stroke-width="0.75"/>
<path d="M70.0,430.7 A11.2,11.2 0 0 1 81.7,423.4" fill="none" stroke="#555" stroke-width="0.75"/>
<path d="M98.1,422.5 A6.0,6.0 0 0 1 105.3,422.8" fill="none" stroke="#555" stroke-width="0.75"/>
<path d="M96.5,420.0 A9.0,9.0 0 0 1 107.2,420.5" fill="none" stroke="#555" stroke-width="0.75"/>
<path d="M94.8,417.6 A12.0,12.0 0 0 1 109.1,418.2" fill="none" stroke="#555" stroke-width="0.75"/>
<path d="M103.5,464.9 L121.9,460.2 M106.1,469.3 L119.8,465.8 M108.7,473.2 L116.6,471.4" stroke="#333" stroke-width="0.8"/>
<path d="M113.2,472 V504.3 H217.4 V455.5" fill="none" stroke="#333" stroke-width="0.8"/>
<polygon points="172.5,504.3 164,499.8 164,508.8" fill="#111"/>
<polygon points="217.4,453.5 215.3,458.2 219.5,458.2" fill="#111"/>
<rect x="193.3" y="418.4" width="61.8" height="31.8" fill="#fff" stroke="#999" stroke-width="0.8"/>
<path d="M196.7,435.1C199.3,435.1 209.6,435.8 212.4,435.1C215.2,434.4 212.9,429.4 213.3,431.0C213.8,432.6 214.4,446.4 215.1,444.5C215.8,442.6 216.8,419.4 217.5,419.9C218.2,420.4 218.8,446.4 219.5,447.6C220.2,448.8 220.8,428.5 221.4,427.3C222.0,426.1 222.7,440.0 223.3,440.6C224.0,441.2 224.7,431.2 225.3,430.8C225.9,430.4 226.4,438.1 227.0,438.3C227.6,438.5 228.2,432.4 228.8,432.2C229.4,432.0 229.9,437.0 230.5,437.1C231.1,437.2 231.7,433.2 232.3,433.1C232.9,433.0 233.5,436.2 234.1,436.3C234.7,436.4 235.2,434.0 235.8,433.9C236.4,433.8 237.1,435.3 237.6,435.5C238.1,435.7 236.2,435.2 238.7,435.1C241.2,435.0 250.4,435.1 252.7,435.1" fill="none" stroke="#ef3848" stroke-width="0.7"/>
<text x="267" y="374.8" font-size="12.3" font-weight="bold">e</text>
<text x="345.5" y="392.6" font-size="11">Startle stimulus</text>
<rect x="371.8" y="398" width="14.4" height="106.3" fill="#d7d8d9"/>
<path d="M316.9,397.8 V504.9 H530" stroke="#959595" stroke-width="1.7" fill="none"/>
<line x1="312.6" y1="397.8" x2="316.9" y2="397.8" stroke="#959595" stroke-width="1.4"/>
<text x="309.6" y="401.6" text-anchor="end" font-size="10.6">750</text>
<line x1="312.6" y1="415.6" x2="316.9" y2="415.6" stroke="#959595" stroke-width="1.4"/>
<text x="309.6" y="419.4" text-anchor="end" font-size="10.6">500</text>
<line x1="312.6" y1="433.4" x2="316.9" y2="433.4" stroke="#959595" stroke-width="1.4"/>
<text x="309.6" y="437.2" text-anchor="end" font-size="10.6">250</text>
<line x1="312.6" y1="451.2" x2="316.9" y2="451.2" stroke="#959595" stroke-width="1.4"/>
<text x="305.6" y="455.0" text-anchor="end" font-size="10.6">0</text>
<line x1="312.6" y1="469.0" x2="316.9" y2="469.0" stroke="#959595" stroke-width="1.4"/>
<text x="309.6" y="472.8" text-anchor="end" font-size="10.6">-250</text>
<line x1="312.6" y1="486.6" x2="316.9" y2="486.6" stroke="#959595" stroke-width="1.4"/>
<text x="309.6" y="490.4" text-anchor="end" font-size="10.6">-500</text>
<line x1="312.6" y1="504.3" x2="316.9" y2="504.3" stroke="#959595" stroke-width="1.4"/>
<text x="309.6" y="508.1" text-anchor="end" font-size="10.6">-750</text>
<line x1="359.8" y1="504.9" x2="359.8" y2="508.8" stroke="#959595" stroke-width="1.4"/>
<text x="359.8" y="521.5" text-anchor="middle" font-size="10.6">100</text>
<line x1="421.9" y1="504.9" x2="421.9" y2="508.8" stroke="#959595" stroke-width="1.4"/>
<text x="421.9" y="521.5" text-anchor="middle" font-size="10.6">200</text>
<line x1="475.0" y1="504.9" x2="475.0" y2="508.8" stroke="#959595" stroke-width="1.4"/>
<text x="475.0" y="521.5" text-anchor="middle" font-size="10.6">300</text>
<text x="421.4" y="534.3" text-anchor="middle" font-size="11">Time (ms)</text>
<text transform="translate(281.9,451) rotate(-90)" text-anchor="middle" font-size="11">Startle magnitude (mg)</text>
<line x1="316.4" y1="451.6" x2="529" y2="451.6" stroke="#b8b8b8" stroke-width="1"/>
<path d="M316.4,451.8C325.3,451.8 360.2,452.0 370.0,451.8C379.8,451.6 372.9,450.8 375.0,450.5C377.1,450.2 380.6,449.7 382.4,449.9C384.2,450.1 384.4,449.0 386.0,451.5C387.6,454.0 389.9,467.0 392.1,464.8C394.3,462.6 396.9,438.8 399.4,438.2C401.9,437.6 404.0,460.0 407.0,461.3C410.0,462.6 414.1,446.6 417.5,445.9C420.9,445.2 424.2,456.7 427.1,456.9C430.0,457.1 432.6,447.6 435.0,447.3C437.4,447.0 439.4,455.0 441.8,455.3C444.2,455.6 447.0,449.8 449.4,449.4C451.8,449.0 454.0,452.5 456.1,452.7C458.2,452.9 459.7,450.5 462.0,450.5C464.3,450.5 467.3,452.4 470.0,452.5C472.7,452.6 475.3,450.8 478.0,450.8C480.7,450.8 483.3,452.4 486.0,452.4C488.7,452.4 491.3,450.8 494.0,450.8C496.7,450.8 499.3,452.2 502.0,452.2C504.7,452.2 507.3,451.0 510.0,451.0C512.7,451.0 514.8,451.9 518.0,452.0C521.2,452.1 527.2,451.6 529.0,451.5" fill="none" stroke="#f2705e" stroke-width="0.75"/>
<path d="M316.4,451.8C322.8,451.8 347.7,451.7 355.0,451.8C362.3,451.9 358.3,452.7 360.0,452.6C361.7,452.5 363.3,451.0 365.0,451.0C366.7,451.0 368.2,452.6 370.0,452.6C371.8,452.6 374.0,450.8 376.0,450.8C378.0,450.8 379.6,453.4 382.0,452.8C384.4,452.2 387.8,445.1 390.3,447.3C392.8,449.5 394.7,468.0 397.0,466.2C399.3,464.4 401.5,437.4 404.0,436.4C406.5,435.4 409.6,458.7 412.2,460.4C414.8,462.1 417.4,446.8 419.8,446.4C422.2,446.0 424.4,458.1 426.7,458.3C429.0,458.5 430.7,448.2 433.4,447.7C436.1,447.2 440.1,455.0 442.7,455.3C445.3,455.6 446.9,449.6 449.0,449.5C451.1,449.4 453.1,454.9 455.3,454.9C457.5,454.9 459.5,449.6 462.0,449.5C464.5,449.4 467.9,454.3 470.4,454.4C472.9,454.4 474.7,450.0 477.0,449.8C479.3,449.6 481.7,453.1 484.0,453.2C486.3,453.3 488.7,450.5 491.0,450.5C493.3,450.5 495.7,453.0 498.0,453.0C500.3,453.0 502.7,450.5 505.0,450.5C507.3,450.5 509.7,452.8 512.0,452.8C514.3,452.9 516.2,451.0 519.0,450.8C521.8,450.6 527.3,451.4 529.0,451.5" fill="none" stroke="#9060c0" stroke-width="0.75"/>
<path d="M316.4,451.8C322.0,451.8 343.5,452.1 350.0,451.8C356.5,451.5 353.6,449.8 355.3,449.9C357.1,450.0 358.9,452.5 360.5,452.6C362.1,452.8 363.6,450.8 364.9,450.8C366.2,450.8 367.2,452.8 368.5,452.6C369.8,452.5 371.4,449.8 372.8,449.9C374.2,450.0 375.7,454.7 377.2,453.4C378.7,452.1 380.3,442.1 381.6,442.0C382.9,441.9 384.0,447.2 385.0,452.6C386.0,458.0 386.1,480.7 387.7,474.5C389.3,468.3 392.4,414.3 394.7,415.4C396.9,416.5 398.9,478.1 401.2,480.9C403.5,483.7 405.8,435.1 408.4,432.4C411.0,429.7 414.0,463.0 416.6,464.5C419.2,466.0 421.5,442.4 424.0,441.5C426.5,440.6 429.2,458.4 431.8,459.0C434.4,459.6 436.8,445.5 439.3,444.8C441.8,444.1 444.6,454.6 446.9,454.9C449.2,455.2 451.0,446.8 453.2,446.5C455.4,446.2 457.9,452.9 460.3,453.2C462.7,453.5 465.6,448.4 467.8,448.2C470.0,448.0 471.7,451.8 473.7,452.2C475.7,452.6 477.8,450.5 480.0,450.5C482.2,450.5 484.7,452.3 487.0,452.4C489.3,452.4 491.7,450.8 494.0,450.8C496.3,450.8 498.7,452.5 501.0,452.5C503.3,452.5 505.7,450.8 508.0,450.8C510.3,450.8 512.7,452.3 515.0,452.3C517.3,452.3 519.7,451.1 522.0,451.0C524.3,450.9 527.8,451.4 529.0,451.5" fill="none" stroke="#4a58c0" stroke-width="0.75"/>
<line x1="537.3" y1="402.1" x2="548.5" y2="402.1" stroke="#6672c4" stroke-width="1.4"/>
<line x1="537.3" y1="417.2" x2="548.5" y2="417.2" stroke="#7c7c7c" stroke-width="1.4"/>
<line x1="537.3" y1="445.8" x2="548.5" y2="445.8" stroke="#f0603c" stroke-width="1.4"/>
<line x1="537.3" y1="475.5" x2="548.5" y2="475.5" stroke="#9a6cc8" stroke-width="1.4"/>
<text x="554" y="405.6" font-size="11">WT</text>
<text x="554" y="421" font-size="11" font-style="italic" letter-spacing="0.4">Otof c.1315C&gt;T+</text>
<text x="554" y="435.2" font-size="11.15">AAVie-GFP</text>
<text x="554" y="449.6" font-size="11" font-style="italic" letter-spacing="0.4">Otof c.1315C&gt;T+</text>
<text x="554" y="463.7" font-size="11.15">AAVie-RESTART v3 8W</text>
<text x="554" y="479.3" font-size="11" font-style="italic" letter-spacing="0.4">Otof c.1315C&gt;T+</text>
<text x="554" y="493" font-size="11.15">AAVie-RESTART v3 6M</text>
<text x="-0.2" y="548.9" font-size="12.3" font-weight="bold">f</text>
<path d="M58.5,573 V694 M53.3,694 H239.3" stroke="#444" stroke-width="1.3" fill="none"/>
<line x1="53.3" y1="573.0" x2="58.5" y2="573.0" stroke="#444" stroke-width="1.2"/>
<text x="47.8" y="576.2" text-anchor="end" font-size="10.8">100</text>
<line x1="53.3" y1="597.2" x2="58.5" y2="597.2" stroke="#444" stroke-width="1.2"/>
<text x="47.8" y="600.2" text-anchor="end" font-size="10.8">80</text>
<line x1="53.3" y1="621.4" x2="58.5" y2="621.4" stroke="#444" stroke-width="1.2"/>
<text x="47.8" y="624.2" text-anchor="end" font-size="10.8">60</text>
<line x1="53.3" y1="645.6" x2="58.5" y2="645.6" stroke="#444" stroke-width="1.2"/>
<text x="47.8" y="648.3" text-anchor="end" font-size="10.8">40</text>
<line x1="53.3" y1="669.8" x2="58.5" y2="669.8" stroke="#444" stroke-width="1.2"/>
<text x="47.8" y="672.3" text-anchor="end" font-size="10.8">20</text>
<line x1="53.3" y1="694.0" x2="58.5" y2="694.0" stroke="#444" stroke-width="1.2"/>
<text x="47.1" y="696.3" text-anchor="end" font-size="10.8">0</text>
<line x1="79.3" y1="694" x2="79.3" y2="698.5" stroke="#444" stroke-width="1.1"/>
<text x="77.8" y="709" text-anchor="middle" font-size="11">WN</text>
<line x1="125.4" y1="694" x2="125.4" y2="698.5" stroke="#444" stroke-width="1.1"/>
<text x="123.9" y="709" text-anchor="middle" font-size="11">4K</text>
<line x1="171.7" y1="694" x2="171.7" y2="698.5" stroke="#444" stroke-width="1.1"/>
<text x="170.2" y="709" text-anchor="middle" font-size="11">8K</text>
<line x1="218.1" y1="694" x2="218.1" y2="698.5" stroke="#444" stroke-width="1.1"/>
<text x="216.6" y="709" text-anchor="middle" font-size="11">16K</text>
<text x="144.7" y="722" text-anchor="middle" font-size="11">Frequency (Hz)</text>
<text transform="translate(24.3,628) rotate(-90)" text-anchor="middle" font-size="11">ASR elicitation probability (%)</text>
<rect x="62.5" y="692.2" width="8.4" height="3.6" rx="1.2" fill="#5a5a5a"/>
<path d="M75.45,693.30 V623.27 H83.15 V693.30" fill="none" stroke="#f0806c" stroke-width="1.1"/>
<path d="M79.3,585.2 V660.1 M77.1,585.2 h4.4 M77.1,660.1 h4.4" stroke="#f0806c" stroke-width="0.9" fill="none"/>
<path d="M87.85,693.30 V642.01 H95.55 V693.30" fill="none" stroke="#9466c4" stroke-width="1.1"/>
<path d="M91.7,612.4 V671.6 M89.5,612.4 h4.4 M89.5,671.6 h4.4" stroke="#9466c4" stroke-width="0.9" fill="none"/>
<path d="M79.3,595.8 l2.1,3.6 h-4.3 z" fill="#ef5a40"/>
<path d="M79.3,603.6 l2.1,3.6 h-4.3 z" fill="#ef5a40"/>
<path d="M79.3,607.3 l2.1,3.6 h-4.3 z" fill="#ef5a40"/>
<path d="M79.3,676.8 l2.1,3.6 h-4.3 z" fill="#ef5a40"/>
<path d="M91.7,607.4 l1.9,1.9 l-1.9,1.9 l-1.9,-1.9 z" fill="#8a50bd"/>
<path d="M91.7,628.0 l1.9,1.9 l-1.9,1.9 l-1.9,-1.9 z" fill="#8a50bd"/>
<path d="M91.7,647.9 l1.9,1.9 l-1.9,1.9 l-1.9,-1.9 z" fill="#8a50bd"/>
<path d="M91.7,676.3 l1.9,1.9 l-1.9,1.9 l-1.9,-1.9 z" fill="#8a50bd"/>
<rect x="108.6" y="692.2" width="8.4" height="3.6" rx="1.2" fill="#5a5a5a"/>
<path d="M121.55,693.30 V591.84 H129.25 V693.30" fill="none" stroke="#f0806c" stroke-width="1.1"/>
<path d="M125.4,577.9 V605.8 M122.4,577.9 h6" stroke="#f0806c" stroke-width="0.9" fill="none"/>
<path d="M133.95,693.30 V613.00 H141.65 V693.30" fill="none" stroke="#9466c4" stroke-width="1.1"/>
<path d="M137.8,594.9 V630.5 M135.6,594.9 h4.4 M135.6,630.5 h4.4" stroke="#9466c4" stroke-width="0.9" fill="none"/>
<path d="M125.4,571.6 l2.1,3.6 h-4.3 z" fill="#ef5a40"/>
<path d="M125.4,587.9 l2.1,3.6 h-4.3 z" fill="#ef5a40"/>
<path d="M125.4,595.8 l2.1,3.6 h-4.3 z" fill="#ef5a40"/>
<path d="M125.4,604.2 l2.1,3.6 h-4.3 z" fill="#ef5a40"/>
<path d="M135.8,594.7 l1.9,1.9 l-1.9,1.9 l-1.9,-1.9 z" fill="#8a50bd"/>
<path d="M140.3,594.7 l1.9,1.9 l-1.9,1.9 l-1.9,-1.9 z" fill="#8a50bd"/>
<path d="M137.8,619.5 l1.9,1.9 l-1.9,1.9 l-1.9,-1.9 z" fill="#8a50bd"/>
<path d="M137.8,631.6 l1.9,1.9 l-1.9,1.9 l-1.9,-1.9 z" fill="#8a50bd"/>
<rect x="154.9" y="692.2" width="8.4" height="3.6" rx="1.2" fill="#5a5a5a"/>
<path d="M167.85,693.30 V617.83 H175.55 V693.30" fill="none" stroke="#f0806c" stroke-width="1.1"/>
<path d="M171.7,593.7 V642.0 M169.5,593.7 h4.4 M169.5,642.0 h4.4" stroke="#f0806c" stroke-width="0.9" fill="none"/>
<path d="M180.25,693.30 V645.04 H187.95 V693.30" fill="none" stroke="#9466c4" stroke-width="1.1"/>
<path d="M184.1,622.7 V666.8 M181.9,622.7 h4.4 M181.9,666.8 h4.4" stroke="#9466c4" stroke-width="0.9" fill="none"/>
<path d="M171.7,592.2 l2.1,3.6 h-4.3 z" fill="#ef5a40"/>
<path d="M171.7,600.6 l2.1,3.6 h-4.3 z" fill="#ef5a40"/>
<path d="M171.7,628.4 l2.1,3.6 h-4.3 z" fill="#ef5a40"/>
<path d="M171.7,644.7 l2.1,3.6 h-4.3 z" fill="#ef5a40"/>
<path d="M184.1,623.1 l1.9,1.9 l-1.9,1.9 l-1.9,-1.9 z" fill="#8a50bd"/>
<path d="M184.1,627.4 l1.9,1.9 l-1.9,1.9 l-1.9,-1.9 z" fill="#8a50bd"/>
<path d="M184.1,672.1 l1.9,1.9 l-1.9,1.9 l-1.9,-1.9 z" fill="#8a50bd"/>
<rect x="201.3" y="692.2" width="8.4" height="3.6" rx="1.2" fill="#5a5a5a"/>
<path d="M214.25,693.30 V637.78 H221.95 V693.30" fill="none" stroke="#f0806c" stroke-width="1.1"/>
<path d="M218.1,595.5 V677.7 M215.9,595.5 h4.4 M215.9,677.7 h4.4" stroke="#f0806c" stroke-width="0.9" fill="none"/>
<path d="M226.65,693.30 V646.24 H234.35 V693.30" fill="none" stroke="#9466c4" stroke-width="1.1"/>
<path d="M230.5,629.3 V662.0 M228.3,629.3 h4.4 M228.3,662.0 h4.4" stroke="#9466c4" stroke-width="0.9" fill="none"/>
<path d="M218.1,584.3 l2.1,3.6 h-4.3 z" fill="#ef5a40"/>
<path d="M215.6,636.3 l2.1,3.6 h-4.3 z" fill="#ef5a40"/>
<path d="M220.6,636.3 l2.1,3.6 h-4.3 z" fill="#ef5a40"/>
<path d="M218.1,684.6 l2.1,3.6 h-4.3 z" fill="#ef5a40"/>
<path d="M230.5,623.7 l1.9,1.9 l-1.9,1.9 l-1.9,-1.9 z" fill="#8a50bd"/>
<path d="M230.5,639.5 l1.9,1.9 l-1.9,1.9 l-1.9,-1.9 z" fill="#8a50bd"/>
<path d="M230.5,647.3 l1.9,1.9 l-1.9,1.9 l-1.9,-1.9 z" fill="#8a50bd"/>
<path d="M230.5,664.2 l1.9,1.9 l-1.9,1.9 l-1.9,-1.9 z" fill="#8a50bd"/>
<path d="M79.3,581.9 V562.4 H91.7 V597.1" fill="none" stroke="#333" stroke-width="0.9"/>
<text x="86.2" y="558.7" text-anchor="middle" font-size="9" fill="#3a3a3a">ns</text>
<path d="M124.9,569.2 V562.4 H137.6 V580.0" fill="none" stroke="#333" stroke-width="0.9"/>
<text x="131.9" y="558.7" text-anchor="middle" font-size="9" fill="#3a3a3a">ns</text>
<path d="M171.2,581.4 V562.4 H183.4 V608.6" fill="none" stroke="#333" stroke-width="0.9"/>
<text x="178.0" y="558.7" text-anchor="middle" font-size="9" fill="#3a3a3a">ns</text>
<path d="M217.0,574.3 V562.4 H229.7 V608.6" fill="none" stroke="#333" stroke-width="0.9"/>
<text x="224.0" y="558.7" text-anchor="middle" font-size="9" fill="#3a3a3a">ns</text>
<text x="289.8" y="548.8" font-size="12.3" font-weight="bold">g</text>
<path d="M349.7,571.2 V692.9 M344.9,692.9 H531" stroke="#333" stroke-width="1.3" fill="none"/>
<line x1="344.9" y1="571.2" x2="349.7" y2="571.2" stroke="#333" stroke-width="1.2"/>
<text x="341.6" y="575.7" text-anchor="end" font-size="11.3">600</text>
<line x1="344.9" y1="611.8" x2="349.7" y2="611.8" stroke="#333" stroke-width="1.2"/>
<text x="341.6" y="616.3" text-anchor="end" font-size="11.3">400</text>
<line x1="344.9" y1="652.3" x2="349.7" y2="652.3" stroke="#333" stroke-width="1.2"/>
<text x="341.6" y="656.8" text-anchor="end" font-size="11.3">200</text>
<line x1="344.9" y1="692.9" x2="349.7" y2="692.9" stroke="#333" stroke-width="1.2"/>
<text x="341.6" y="697.4" text-anchor="end" font-size="11.3">0</text>
<line x1="370.3" y1="692.9" x2="370.3" y2="697.6" stroke="#333" stroke-width="1.1"/>
<text x="370.3" y="709" text-anchor="middle" font-size="11">WN</text>
<line x1="416.8" y1="692.9" x2="416.8" y2="697.6" stroke="#333" stroke-width="1.1"/>
<text x="416.8" y="709" text-anchor="middle" font-size="11">4K</text>
<line x1="463.3" y1="692.9" x2="463.3" y2="697.6" stroke="#333" stroke-width="1.1"/>
<text x="463.3" y="709" text-anchor="middle" font-size="11">8K</text>
<line x1="509.9" y1="692.9" x2="509.9" y2="697.6" stroke="#333" stroke-width="1.1"/>
<text x="509.9" y="709" text-anchor="middle" font-size="11">16K</text>
<text x="441" y="722" text-anchor="middle" font-size="11">Frequency (Hz)</text>
<text transform="translate(317.6,633.3) rotate(-90)" text-anchor="middle" font-size="11.2">Amplitude (mV)</text>
<path d="M353.85,692.20 V684.79 H361.55 V692.20" fill="none" stroke="#555" stroke-width="1.0"/>
<rect x="354.6" y="678.6" width="4.2" height="4.2" fill="#5a5a5a"/>
<rect x="357.1" y="680.3" width="4.2" height="4.2" fill="#5a5a5a"/>
<rect x="353.6" y="681.7" width="4.2" height="4.2" fill="#5a5a5a"/>
<rect x="357.6" y="682.7" width="4.2" height="4.2" fill="#5a5a5a"/>
<path d="M366.45,692.20 V638.14 H374.15 V692.20" fill="none" stroke="#f0806c" stroke-width="1.1"/>
<path d="M370.3,627.0 V648.3 M368.1,627.0 h4.4 M368.1,648.3 h4.4" stroke="#f0806c" stroke-width="0.9" fill="none"/>
<path d="M379.25,692.20 V638.14 H386.95 V692.20" fill="none" stroke="#9466c4" stroke-width="1.1"/>
<path d="M383.1,620.9 V656.4 M380.9,620.9 h4.4 M380.9,656.4 h4.4" stroke="#9466c4" stroke-width="0.9" fill="none"/>
<path d="M368.1,627.5 l2.1,3.6 h-4.3 z" fill="#ef5a40"/>
<path d="M373.1,627.5 l2.1,3.6 h-4.3 z" fill="#ef5a40"/>
<path d="M370.3,637.7 l2.1,3.6 h-4.3 z" fill="#ef5a40"/>
<path d="M370.3,652.9 l2.1,3.6 h-4.3 z" fill="#ef5a40"/>
<path d="M383.1,610.8 l1.9,1.9 l-1.9,1.9 l-1.9,-1.9 z" fill="#8a50bd"/>
<path d="M383.1,637.2 l1.9,1.9 l-1.9,1.9 l-1.9,-1.9 z" fill="#8a50bd"/>
<path d="M383.1,645.3 l1.9,1.9 l-1.9,1.9 l-1.9,-1.9 z" fill="#8a50bd"/>
<path d="M383.1,650.4 l1.9,1.9 l-1.9,1.9 l-1.9,-1.9 z" fill="#8a50bd"/>
<path d="M400.35,692.20 V675.05 H408.05 V692.20" fill="none" stroke="#555" stroke-width="1.0"/>
<rect x="400.1" y="673.6" width="4.2" height="4.2" fill="#5a5a5a"/>
<rect x="404.1" y="673.6" width="4.2" height="4.2" fill="#5a5a5a"/>
<rect x="402.1" y="679.6" width="4.2" height="4.2" fill="#5a5a5a"/>
<path d="M412.95,692.20 V638.14 H420.65 V692.20" fill="none" stroke="#f0806c" stroke-width="1.1"/>
<path d="M416.8,625.0 V648.1 M413.8,625.0 h6" stroke="#f0806c" stroke-width="0.9" fill="none"/>
<path d="M425.75,692.20 V617.26 H433.45 V692.20" fill="none" stroke="#9466c4" stroke-width="1.1"/>
<path d="M429.6,586.4 V646.9 M427.4,586.4 h4.4 M427.4,646.9 h4.4" stroke="#9466c4" stroke-width="0.9" fill="none"/>
<path d="M416.8,623.9 l2.1,3.6 h-4.3 z" fill="#ef5a40"/>
<path d="M416.8,633.6 l2.1,3.6 h-4.3 z" fill="#ef5a40"/>
<path d="M413.8,645.2 l2.1,3.6 h-4.3 z" fill="#ef5a40"/>
<path d="M419.8,645.2 l2.1,3.6 h-4.3 z" fill="#ef5a40"/>
<path d="M429.6,584.5 l1.9,1.9 l-1.9,1.9 l-1.9,-1.9 z" fill="#8a50bd"/>
<path d="M429.6,597.7 l1.9,1.9 l-1.9,1.9 l-1.9,-1.9 z" fill="#8a50bd"/>
<path d="M429.6,635.2 l1.9,1.9 l-1.9,1.9 l-1.9,-1.9 z" fill="#8a50bd"/>
<path d="M429.6,645.9 l1.9,1.9 l-1.9,1.9 l-1.9,-1.9 z" fill="#8a50bd"/>
<path d="M446.85,692.20 V680.73 H454.55 V692.20" fill="none" stroke="#555" stroke-width="1.0"/>
<rect x="446.6" y="678.2" width="4.2" height="4.2" fill="#5a5a5a"/>
<rect x="450.6" y="679.0" width="4.2" height="4.2" fill="#5a5a5a"/>
<rect x="448.6" y="680.7" width="4.2" height="4.2" fill="#5a5a5a"/>
<path d="M459.45,692.20 V654.37 H467.15 V692.20" fill="none" stroke="#f0806c" stroke-width="1.1"/>
<path d="M463.3,644.2 V663.5 M461.1,644.2 h4.4 M461.1,663.5 h4.4" stroke="#f0806c" stroke-width="0.9" fill="none"/>
<path d="M472.25,692.20 V635.10 H479.95 V692.20" fill="none" stroke="#9466c4" stroke-width="1.1"/>
<path d="M476.1,620.5 V649.9 M473.9,620.5 h4.4 M473.9,649.9 h4.4" stroke="#9466c4" stroke-width="0.9" fill="none"/>
<path d="M463.3,642.7 l2.1,3.6 h-4.3 z" fill="#ef5a40"/>
<path d="M463.3,650.2 l2.1,3.6 h-4.3 z" fill="#ef5a40"/>
<path d="M463.3,657.3 l2.1,3.6 h-4.3 z" fill="#ef5a40"/>
<path d="M463.3,664.0 l2.1,3.6 h-4.3 z" fill="#ef5a40"/>
<path d="M473.1,625.0 l1.9,1.9 l-1.9,1.9 l-1.9,-1.9 z" fill="#8a50bd"/>
<path d="M479.1,623.0 l1.9,1.9 l-1.9,1.9 l-1.9,-1.9 z" fill="#8a50bd"/>
<path d="M476.1,628.1 l1.9,1.9 l-1.9,1.9 l-1.9,-1.9 z" fill="#8a50bd"/>
<path d="M476.1,654.4 l1.9,1.9 l-1.9,1.9 l-1.9,-1.9 z" fill="#8a50bd"/>
<path d="M493.45,692.20 V683.77 H501.15 V692.20" fill="none" stroke="#555" stroke-width="1.0"/>
<rect x="493.2" y="680.7" width="4.2" height="4.2" fill="#5a5a5a"/>
<rect x="497.2" y="681.5" width="4.2" height="4.2" fill="#5a5a5a"/>
<rect x="495.2" y="682.3" width="4.2" height="4.2" fill="#5a5a5a"/>
<path d="M506.05,692.20 V643.21 H513.75 V692.20" fill="none" stroke="#f0806c" stroke-width="1.1"/>
<path d="M509.9,630.0 V657.8 M507.7,630.0 h4.4 M507.7,657.8 h4.4" stroke="#f0806c" stroke-width="0.9" fill="none"/>
<path d="M518.85,692.20 V650.31 H526.55 V692.20" fill="none" stroke="#9466c4" stroke-width="1.1"/>
<path d="M522.7,629.0 V670.2 M520.5,629.0 h4.4 M520.5,670.2 h4.4" stroke="#9466c4" stroke-width="0.9" fill="none"/>
<path d="M507.1,632.6 l2.1,3.6 h-4.3 z" fill="#ef5a40"/>
<path d="M512.7,632.6 l2.1,3.6 h-4.3 z" fill="#ef5a40"/>
<path d="M509.9,642.7 l2.1,3.6 h-4.3 z" fill="#ef5a40"/>
<path d="M509.9,662.0 l2.1,3.6 h-4.3 z" fill="#ef5a40"/>
<path d="M522.7,616.9 l1.9,1.9 l-1.9,1.9 l-1.9,-1.9 z" fill="#8a50bd"/>
<path d="M519.7,653.4 l1.9,1.9 l-1.9,1.9 l-1.9,-1.9 z" fill="#8a50bd"/>
<path d="M525.7,653.4 l1.9,1.9 l-1.9,1.9 l-1.9,-1.9 z" fill="#8a50bd"/>
<path d="M522.7,657.5 l1.9,1.9 l-1.9,1.9 l-1.9,-1.9 z" fill="#8a50bd"/>
<path d="M358.4,637.0 V594.6 H371.6 V618.2" fill="none" stroke="#707070" stroke-width="1"/>
<text x="365.3" y="593" text-anchor="middle" font-size="10.2" font-weight="bold" fill="#333">***</text>
<path d="M404.5,637.0 V594.6 H417.4 V619.2" fill="none" stroke="#707070" stroke-width="1"/>
<text x="411.2" y="593" text-anchor="middle" font-size="10.2" font-weight="bold" fill="#333">**</text>
<path d="M450.4,637.0 V594.6 H463.6 V617.5" fill="none" stroke="#707070" stroke-width="1"/>
<text x="457.3" y="593" text-anchor="middle" font-size="10.2" font-weight="bold" fill="#333">*</text>
<path d="M496.7,637.0 V594.6 H509.9 V620.0" fill="none" stroke="#707070" stroke-width="1"/>
<text x="503.6" y="593" text-anchor="middle" font-size="10.2" font-weight="bold" fill="#333">***</text>
<path d="M358.4,579.4 V568 H383.5 V579.4" fill="none" stroke="#707070" stroke-width="1"/>
<text x="371.2" y="566.4" text-anchor="middle" font-size="10.2" font-weight="bold" fill="#333">***</text>
<path d="M404.5,579.4 V568 H429.9 V579.4" fill="none" stroke="#707070" stroke-width="1"/>
<text x="417.5" y="566.4" text-anchor="middle" font-size="10.2" font-weight="bold" fill="#333">****</text>
<path d="M450.4,579.4 V568 H475.8 V579.4" fill="none" stroke="#707070" stroke-width="1"/>
<text x="463.4" y="566.4" text-anchor="middle" font-size="10.2" font-weight="bold" fill="#333">****</text>
<path d="M496.7,579.4 V568 H521.9 V579.4" fill="none" stroke="#707070" stroke-width="1"/>
<text x="509.6" y="566.4" text-anchor="middle" font-size="10.2" font-weight="bold" fill="#333">**</text>
<rect x="541.8" y="566.4" width="4.0" height="4.0" fill="#555"/>
<path d="M543.8,593.8 l2.6,4.3 h-5.1 z" fill="#ef5a40"/>
<path d="M543.8,623.8 l2.4,2.4 l-2.4,2.4 l-2.4,-2.4 z" fill="#8a50bd"/>
<text x="554.2" y="572.3" font-size="11" font-style="italic" letter-spacing="0.4">Otof c.1315C&gt;T+</text>
<text x="554.2" y="586.7" font-size="11.15">AAVie-GFP</text>
<text x="554.2" y="599.3" font-size="11" font-style="italic" letter-spacing="0.4">Otof c.1315C&gt;T+</text>
<text x="554.2" y="615.1" font-size="11.15">AAVie-RESTART v3 8W</text>
<text x="554.2" y="630.1" font-size="11" font-style="italic" letter-spacing="0.4">Otof c.1315C&gt;T+</text>
<text x="554.2" y="644.2" font-size="11.15">AAVie-RESTART v3 6M</text>
</g>
</svg>
</body></html>
